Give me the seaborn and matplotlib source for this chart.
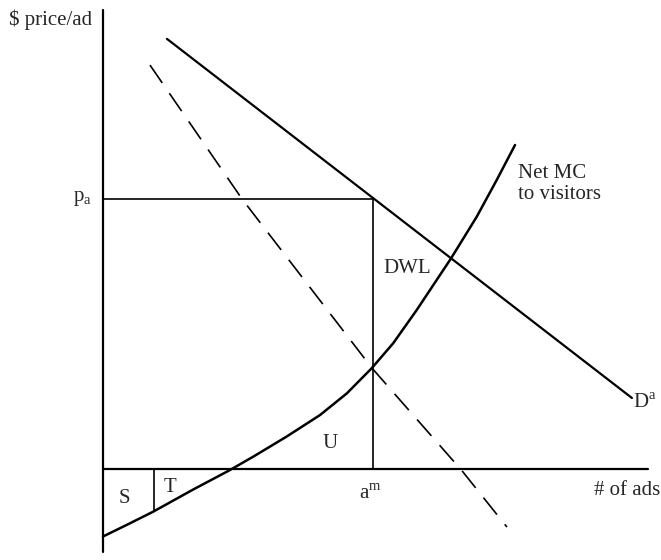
import numpy as np
import pandas as pd
import matplotlib.pyplot as plt
import seaborn as sns

# quantities (# of ads) and prices, origin at the axes corner
am = 10.0
pa = 10.0

demand_x = [2.37, 19.59]
demand_y = [15.93, 2.63]

mr_x = [1.74, 5.15, 9.96, 13.30, 14.96]
mr_y = [14.96, 10.0, 3.74, -0.07, -2.15]

mc_x = [0.0, 0.88, 1.86, 3.34, 4.70, 5.57, 6.80, 8.04, 9.03, 9.95,
        10.75, 11.62, 12.89, 13.84, 14.58, 15.26]
mc_y = [-2.5, -2.07, -1.58, -0.76, -0.04, 0.46, 1.20, 2.00, 2.80, 3.73,
        4.66, 5.89, 7.80, 9.34, 10.70, 12.0]

st_x = 1.89
axis_top = 17.0
axis_bottom = -3.07
axis_right = 20.19

sns.set_style("white")
plt.rcParams["font.family"] = ["Liberation Serif", "DejaVu Serif"]
plt.rcParams["mathtext.fontset"] = "custom"
plt.rcParams["mathtext.rm"] = "Liberation Serif"

fig = plt.figure(figsize=(6.61, 5.6), dpi=100)
ax = fig.add_axes([0, 0, 1, 1])

kw = dict(color="black", estimator=None, sort=False, legend=False, ax=ax)

# axes
sns.lineplot(x=[0, 0], y=[axis_top, axis_bottom], linewidth=1.6, **kw)
sns.lineplot(x=[0, axis_right], y=[0, 0], linewidth=1.6, **kw)

# p_a and a^m guides
sns.lineplot(x=[0, am], y=[pa, pa], linewidth=1.2, **kw)
sns.lineplot(x=[am, am], y=[0, pa], linewidth=1.2, **kw)
sns.lineplot(x=[st_x, st_x], y=[0, np.interp(st_x, mc_x, mc_y)], linewidth=1.2, **kw)

# demand, MR (dashed), net MC
sns.lineplot(x=demand_x, y=demand_y, linewidth=1.6, **kw)
sns.lineplot(x=mr_x, y=mr_y, linewidth=1.2, **kw)
ax.lines[-1].set_dashes((13, 7.5))
sns.lineplot(x=mc_x, y=mc_y, linewidth=1.8, **kw)
ax.lines[-1].set_solid_joinstyle("round")

fs = 15
ax.text(-0.4, 16.63, "$ price/ad", ha="right", va="center", fontsize=fs)
ax.text(-0.4, pa, r"p$_\mathregular{a}$", ha="right", va="center", fontsize=fs)
ax.text(10.37, 7.44, "DWL", ha="left", va="center", fontsize=fs)
ax.text(8.41, 0.93, "U", ha="center", va="center", fontsize=fs)
ax.text(0.81, -1.11, "S", ha="center", va="center", fontsize=fs)
ax.text(2.48, -0.70, "T", ha="center", va="center", fontsize=fs)
ax.text(9.9, -0.93, r"a$^\mathregular{m}$", ha="center", va="center", fontsize=fs)
ax.text(15.37, 10.57, "Net MC\nto visitors", ha="left", va="center", fontsize=fs, linespacing=1.15)
ax.text(19.63, 2.44, r"D$^\mathregular{a}$", ha="left", va="center", fontsize=fs)
ax.text(18.19, -0.78, "# of ads", ha="left", va="center", fontsize=fs)

ax.set_xlim(-103 / 27, 558 / 27)
ax.set_ylim(-91 / 27, 469 / 27)
ax.axis("off")

fig.savefig("out.png", dpi=100, facecolor="white")
